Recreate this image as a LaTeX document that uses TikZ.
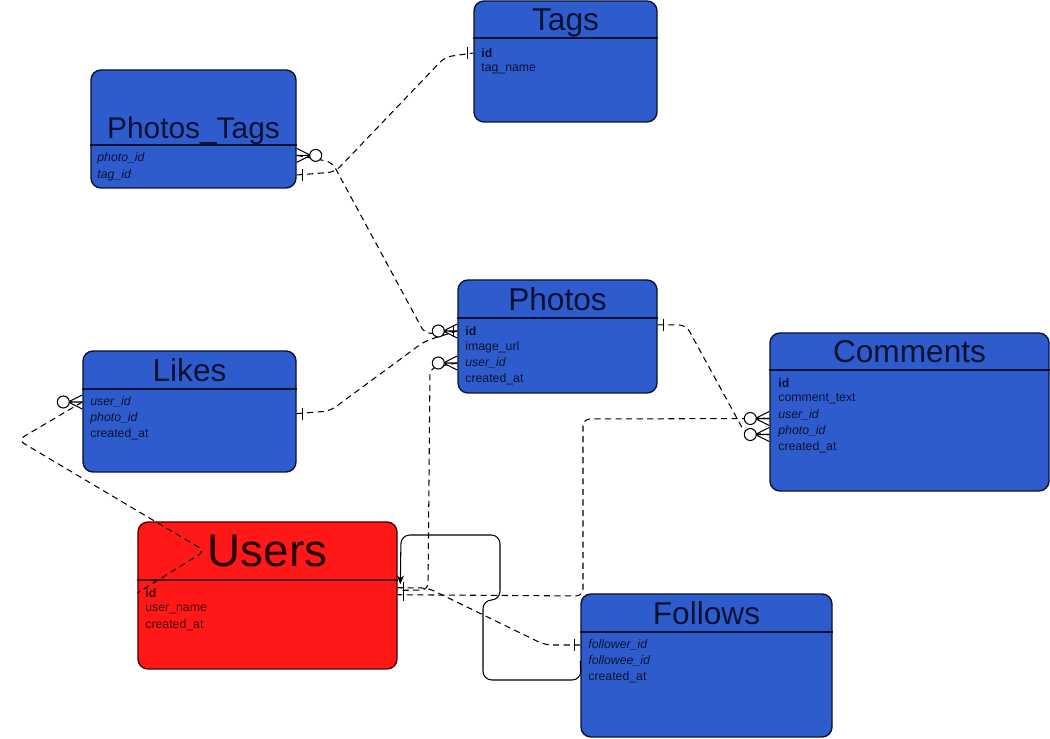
\documentclass[tikz,border=0pt]{standalone}
\usepackage{fontspec}
\setmainfont{Liberation Sans}
\usepackage{xcolor}
\usetikzlibrary{positioning, arrows.meta}

\definecolor{tblblue}{RGB}{47,92,204}
\definecolor{tblred}{RGB}{255,24,24}
\definecolor{inkblue}{RGB}{10,18,52}
\definecolor{inkred}{RGB}{72,8,8}

\tikzset{
    tbl/.style={draw=inkblue, line width=0.8pt, rounded corners=2mm, fill=tblblue, inner sep=0pt},
    usertbl/.style={tbl, draw=black!70!red, fill=tblred},
    ttl/.style={text=inkblue, font=\fontsize{18}{20}\selectfont, inner sep=0pt, anchor=base},
    attr/.style={text=inkblue, font=\fontsize{7}{8}\selectfont, anchor=west, inner sep=0pt},
    hdr/.style={draw=inkblue, line width=0.6pt},
    rel/.style={dash pattern=on 3.5pt off 2.5pt, line width=0.6pt, rounded corners=4pt},
    zeromany/.pic={
        \draw[solid, line width=0.6pt] (-14,0) -- (0,-7) (-14,0) -- (0,7) (-14,0) -- (0,0);
        \draw[solid, line width=0.6pt, fill=white] (-19,0) circle (1.2mm);
    },
    onemark/.pic={
        \draw[solid, line width=0.8pt] (-6,-6) -- (-6,6);
    }
}

\begin{document}
\begin{tikzpicture}[x=0.2mm, y=-0.2mm]

    \useasboundingbox (0,0) rectangle (1050,739);

    % --- Tags ---
    \node[tbl, minimum width=36.6mm, minimum height=24.2mm] (tags) at (565.5,61.5) {};
    \draw[hdr] (tags.west |- 0,38) -- (tags.east |- 0,38);
    \node[ttl] (tagsttl) at (565.5,31) {Tags};
    \node[attr] (tagsid) at (481,53) {\textbf{id}};
    \node[attr] (tagsname) at (481,69) {tag\_name};

    % --- Photos_Tags ---
    \node[tbl, minimum width=41mm, minimum height=23.6mm] (photostags) at (193.5,129) {};
    \draw[hdr] (photostags.west |- 0,145) -- (photostags.east |- 0,145);
    \node[ttl, font=\fontsize{17}{20}\selectfont] (photostagsttl) at (193.5,139) {Photos\_Tags};
    \node[attr] (ptphoto) at (97,158) {\textit{photo\_id}};
    \node[attr] (pttag) at (97,175) {\textit{tag\_id}};

    % --- Photos ---
    \node[tbl, minimum width=39.8mm, minimum height=22.6mm] (photos) at (557.5,336.5) {};
    \draw[hdr] (photos.west |- 0,318) -- (photos.east |- 0,318);
    \node[ttl] (photosttl) at (557.5,311) {Photos};
    \node[attr] (photosid) at (465,331) {\textbf{id}};
    \node[attr] (photosurl) at (465,347) {image\_url};
    \node[attr] (photosuser) at (465,363) {\textit{user\_id}};
    \node[attr] (photoscreated) at (465,379) {created\_at};

    % --- Likes ---
    \node[tbl, minimum width=42.6mm, minimum height=24.2mm] (likes) at (189.5,411.5) {};
    \draw[hdr] (likes.west |- 0,389) -- (likes.east |- 0,389);
    \node[ttl] (likesttl) at (189.5,382) {Likes};
    \node[attr] (likesuser) at (90,402) {\textit{user\_id}};
    \node[attr] (likesphoto) at (90,418) {\textit{photo\_id}};
    \node[attr] (likescreated) at (90,434) {created\_at};

    % --- Comments ---
    \node[tbl, minimum width=55.8mm, minimum height=31.6mm] (comments) at (909.5,412) {};
    \draw[hdr] (comments.west |- 0,370) -- (comments.east |- 0,370);
    \node[ttl] (commentsttl) at (909.5,363) {Comments};
    \node[attr] (commentsid) at (778,383) {\textbf{id}};
    \node[attr] (commentstext) at (778,399) {comment\_text};
    \node[attr] (commentsuser) at (778,415) {\textit{user\_id}};
    \node[attr] (commentsphoto) at (778,431) {\textit{photo\_id}};
    \node[attr] (commentscreated) at (778,447) {created\_at};

    % --- Users ---
    \node[usertbl, minimum width=51.8mm, minimum height=29.4mm] (users) at (267.5,595.5) {};
    \draw[hdr, draw=black!70!red] (users.west |- 0,580) -- (users.east |- 0,580);
    \node[ttl, text=black!85!red, font=\fontsize{26}{30}\selectfont] (usersttl) at (267.5,567) {Users};
    \node[attr, text=inkred] (usersid) at (145,593) {\textbf{id}};
    \node[attr, text=inkred] (usersname) at (145,609) {user\_name};
    \node[attr, text=inkred] (userscreated) at (145,625) {created\_at};

    % --- Follows ---
    \node[tbl, minimum width=50.2mm, minimum height=28.6mm] (follows) at (706.5,665.5) {};
    \draw[hdr] (follows.west |- 0,632) -- (follows.east |- 0,632);
    \node[ttl] (followsttl) at (706.5,625) {Follows};
    \node[attr] (followsfollower) at (588,645) {\textit{follower\_id}};
    \node[attr] (followsfollowee) at (588,661) {\textit{followee\_id}};
    \node[attr] (followscreated) at (588,677) {created\_at};

    % --- Ends on the Users side ---
    \coordinate (ue1) at ([yshift=1.5pt]users.east |- usersid);
    \coordinate (ue2) at ([yshift=-1pt]users.east |- usersid);
    \coordinate (ue3) at ([yshift=3pt]users.east |- usersid);
    \coordinate (uarrow) at ([xshift=1.5pt, yshift=5pt]users.east |- usersid);

    % --- Relations ---
    % Photos_Tags.tag_id -> Tags.id
    \draw[rel] (photostags.east |- pttag) -- (335,172) -- (445,57) -- (tags.west |- tagsid);
    \path (photostags.east |- pttag) pic[rotate=180] {onemark};
    \path (tags.west |- tagsid) pic {onemark};

    % Photos_Tags.photo_id -> Photos.id
    \draw[rel] ([yshift=1.5pt]photostags.east |- ptphoto) -- (332,162) -- (425,334) -- (photos.west |- photosid);
    \path ([yshift=1.5pt]photostags.east |- ptphoto) pic[rotate=180] {zeromany};

    % Likes.photo_id -> Photos.id
    \draw[rel] ([yshift=2.5pt]likes.east |- likesphoto) -- (330,411) -- (425,341) -- (photos.west |- photosid);
    \path ([yshift=2.5pt]likes.east |- likesphoto) pic[rotate=180] {onemark};
    \path (photos.west |- photosid) pic {zeromany};
    \draw[line width=0.6pt] ([xshift=-2pt]photos.west |- photosid) ++(0,-6) -- ++(0,12);

    % Photos.user_id -> Users.id
    \draw[rel] (photos.west |- photosuser) -- (430,368) -- (428,590) -- (ue1);
    \path (photos.west |- photosuser) pic {zeromany};
    \path (ue1) pic[rotate=180] {onemark};

    % Photos.id -> Comments.photo_id
    \draw[rel] ([yshift=3.5pt]photos.east |- photosid) -- (686,325) -- (745,433) -- ([yshift=-2pt]comments.west |- commentsphoto);
    \path ([yshift=3.5pt]photos.east |- photosid) pic[rotate=180] {onemark};
    \path ([yshift=-2pt]comments.west |- commentsphoto) pic {zeromany};

    % Comments.user_id -> Users.id
    \draw[rel] ([yshift=-2pt]comments.west |- commentsuser) -- (583,419) -- (583,596) -- (ue2);
    \path ([yshift=-2pt]comments.west |- commentsuser) pic {zeromany};
    \path (ue2) pic[rotate=180] {onemark};

    % Follows.follower_id -> Users.id
    \draw[rel] (follows.west |- followsfollower) -- (545,645) -- (428,588) -- (ue3);
    \path (follows.west |- followsfollower) pic {onemark};
    \path (ue3) pic[rotate=180] {onemark};

    % Follows.followee_id -> Users
    \draw[line width=0.6pt, rounded corners=5pt, -{Stealth[length=5pt, width=4pt]}]
        (follows.west |- followsfollowee) -- (581,680) -- (483,680) -- (483,600)
        -- (500,600) -- (500,535) -- (401,535) -- (uarrow);

    % Likes.user_id -> Users.id
    \draw[rel] (likes.west |- likesuser) -- (18,440) -- (205,551) -- (users.west |- usersid);
    \path (likes.west |- likesuser) pic {zeromany};

\end{tikzpicture}
\end{document}
